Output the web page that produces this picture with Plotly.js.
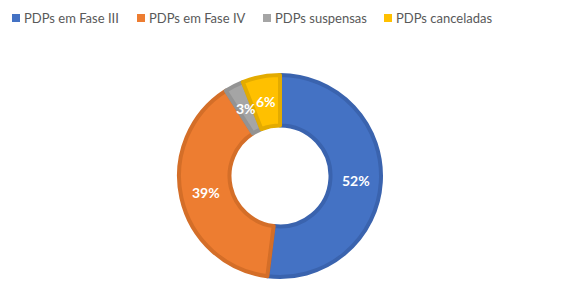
<!DOCTYPE html>
<html><head><meta charset="utf-8">
<script src="https://cdn.plot.ly/plotly-3.0.1.min.js"></script>
<style>html,body{margin:0;padding:0;background:#fff}#c{width:581px;height:305px}</style>
</head><body><div id="c"></div>
<script>
const categories = ["PDPs em Fase III", "PDPs em Fase IV", "PDPs suspensas", "PDPs canceladas"];
const values = [52, 39, 3, 6];
const colors = ["#4472C4", "#ED7D31", "#A5A5A5", "#FFC000"];
const borderColors = ["#3A63AE", "#D46E28", "#939393", "#E3AB00"];

const W = 581, H = 305;
const cx = 280, cy = 176, R = 101, holeFrac = 0.5;
const legendX = [12, 137, 263, 384];

const data = [{
  type: "pie",
  labels: categories,
  values: values,
  hole: holeFrac,
  sort: false,
  direction: "clockwise",
  rotation: 0,
  marker: {colors: colors, line: {color: borderColors, width: 4}},
  textinfo: "none",
  hoverinfo: "none",
  showlegend: false,
  domain: {x: [(cx - R) / W, (cx + R) / W], y: [1 - (cy + R) / H, 1 - (cy - R) / H]}
}];

// percentage labels placed at the middle of each ring segment
const total = values.reduce((a, b) => a + b, 0);
const annotations = [];
let cum = 0;
const rMid = R * (1 + holeFrac) / 2;
values.forEach((v, i) => {
  const mid = (cum + v / 2) / total * 2 * Math.PI;
  cum += v;
  const px = cx + rMid * Math.sin(mid);
  const py = cy - rMid * Math.cos(mid);
  annotations.push({
    x: px / W, y: 1 - py / H, xref: "paper", yref: "paper",
    text: Math.round(v / total * 100) + "%", showarrow: false,
    xanchor: "center", yanchor: "middle",
    font: {family: "Lato, sans-serif", size: 14, color: "#FFFFFF", weight: "bold"}
  });
});

// legend as squares + text
const shapes = [];
categories.forEach((c, i) => {
  shapes.push({type: "rect", xref: "paper", yref: "paper",
    x0: legendX[i] / W, x1: (legendX[i] + 8) / W, y0: 1 - 22 / H, y1: 1 - 14 / H,
    fillcolor: colors[i], line: {width: 0}});
  annotations.push({x: (legendX[i] + 10) / W, y: 1 - 18 / H, xref: "paper", yref: "paper",
    text: c, showarrow: false, xanchor: "left", yanchor: "middle",
    font: {family: "Lato, sans-serif", size: 13, color: "#595959"}});
});

const layout = {
  width: W, height: H,
  margin: {l: 0, r: 0, t: 0, b: 0},
  paper_bgcolor: "#fff",
  showlegend: false,
  annotations: annotations,
  shapes: shapes
};
Plotly.newPlot("c", data, layout, {staticPlot: true, displayModeBar: false});
</script></body></html>
